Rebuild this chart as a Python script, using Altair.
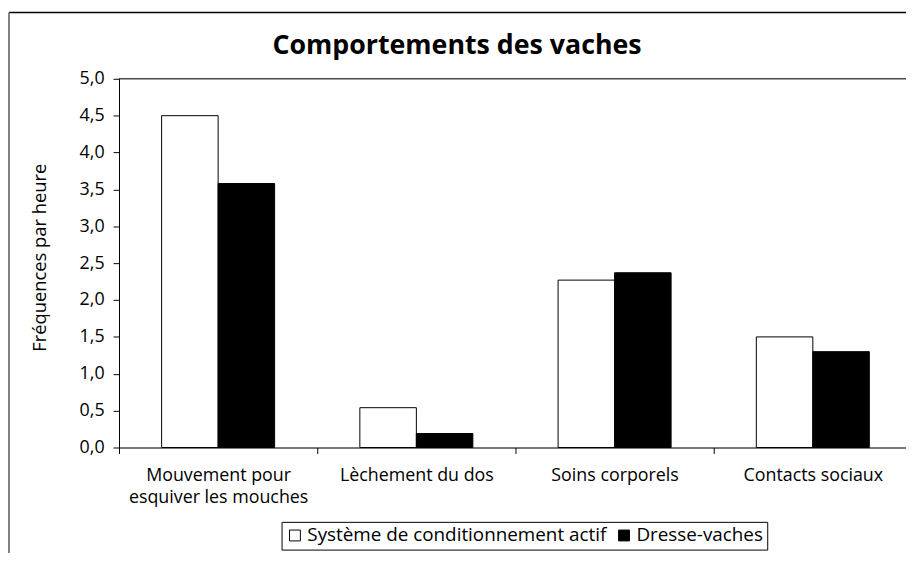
import altair as alt
import pandas as pd

categories = ["Mouvement pour esquiver les mouches", "Lèchement du dos", "Soins corporels", "Contacts sociaux"]
series = ["Système de conditionnement actif", "Dresse-vaches"]
actif = [4.50, 0.54, 2.27, 1.50]
dresse = [3.58, 0.19, 2.37, 1.30]
y_ticks = [0.0, 0.5, 1.0, 1.5, 2.0, 2.5, 3.0, 3.5, 4.0, 4.5, 5.0]
title_text = "Comportements des vaches"
y_title = "Fréquences par heure"

rows = []
for c, a, d in zip(categories, actif, dresse):
    rows.append({"cat": c, "serie": series[0], "val": a})
    rows.append({"cat": c, "serie": series[1], "val": d})
df = pd.DataFrame(rows)
one = pd.DataFrame({"k": [0]})

FONT = "Open Sans"
W, H = 794, 372

label_expr = ("datum.label == 'Mouvement pour esquiver les mouches' ? "
              "['Mouvement pour', 'esquiver les mouches'] : datum.label")

bars = alt.Chart(df).mark_bar(stroke="black", strokeWidth=1).encode(
    x=alt.X("cat:N", sort=categories,
            scale=alt.Scale(range=[0, 800], paddingInner=0, paddingOuter=0),
            axis=alt.Axis(title=None, tickBand="extent", labelExpr=label_expr,
                          labelAngle=0, labelFont=FONT, labelFontSize=18,
                          labelColor="black", labelLineHeight=22, labelPadding=13,
                          labelLimit=0, tickSize=6, tickColor="black",
                          domainColor="black", grid=False)),
    xOffset=alt.XOffset("serie:N", sort=series,
                        scale=alt.Scale(paddingInner=0, paddingOuter=0.754)),
    y=alt.Y("val:Q", scale=alt.Scale(domain=[0, 5]),
            axis=alt.Axis(values=y_ticks, title=y_title,
                          labelExpr="replace(format(datum.value, '.1f'), '.', ',')",
                          labelFont=FONT, labelFontSize=18, labelColor="black",
                          labelPadding=9, tickSize=6, tickColor="black",
                          domainColor="black", grid=False,
                          titleFont=FONT, titleFontSize=18.5, titleFontWeight="normal",
                          titleColor="black", titleX=-80, titleY=180,
                          titleAngle=270, titleAlign="center", titleBaseline="middle")),
    fill=alt.Fill("serie:N", sort=series,
                  scale=alt.Scale(domain=series, range=["white", "black"]),
                  legend=alt.Legend(title=None, orient="none", legendX=164, legendY=447,
                                    direction="horizontal", strokeColor="black",
                                    padding=4, symbolType="square", symbolSize=120,
                                    symbolStrokeColor="black", symbolStrokeWidth=1,
                                    labelFont=FONT, labelFontSize=19, labelColor="black",
                                    labelLimit=0, columnPadding=8, labelOffset=3)),
)

title_mark = alt.Chart(one).mark_text(
    font=FONT, fontSize=27, fontWeight="bold", color="black",
    align="center", baseline="middle").encode(
    text=alt.value(title_text), x=alt.value(341), y=alt.value(-33))

plot_top = alt.Chart(one).mark_rule(color="black", strokeWidth=1).encode(
    x=alt.value(0), x2=alt.value(800), y=alt.value(0))
frame_top = alt.Chart(one).mark_rule(color="black", strokeWidth=1.5).encode(
    x=alt.value(-111), x2=alt.value(800), y=alt.value(-67))
frame_left = alt.Chart(one).mark_rule(color="#808080", strokeWidth=2).encode(
    x=alt.value(-111), y=alt.value(-67), y2=alt.value(480))

chart = alt.layer(bars, title_mark, plot_top, frame_top, frame_left).properties(
    width=W, height=H,
    autosize=alt.AutoSizeParams(type="none"),
    padding={"left": 112, "top": 69, "right": 0, "bottom": 104},
).configure_view(stroke=None).configure(background="white")

chart.save("out.html", embed_options={"renderer": "svg", "actions": False})
